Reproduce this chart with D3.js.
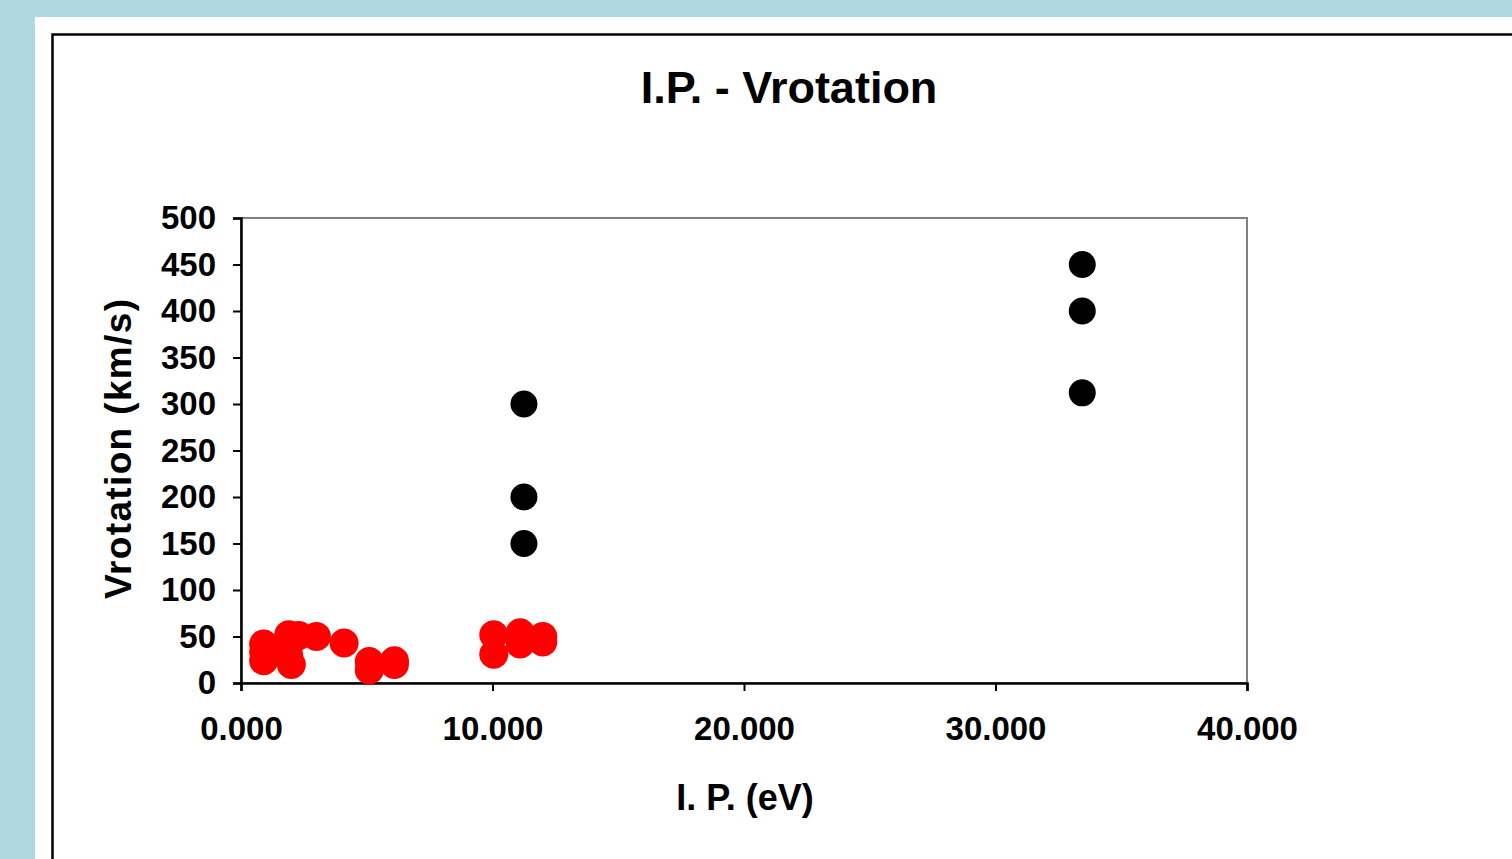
<!DOCTYPE html>
<html>
<head>
<meta charset="utf-8">
<script src="https://cdn.jsdelivr.net/npm/d3@7.9.0/dist/d3.min.js"></script>
<style>
  html, body { margin: 0; padding: 0; background: #b0d8e2; overflow: hidden; }
  svg { display: block; }
  text { font-family: "Liberation Sans", Arial, sans-serif; font-weight: bold; fill: #000; }
</style>
</head>
<body>
<div id="chart"></div>
<script>
// I.P. - Vrotation scatter (Excel-style)

// red series: low I.P. elements
const redIP = [0.9, 0.9, 0.9, 1.9, 1.9, 1.9, 2.0, 2.3, 3.0, 4.1, 5.1, 5.1, 6.1, 6.1, 10.05, 10.05, 11.1, 11.1, 12.0, 12.0];
const redV = [42, 33, 24, 52, 40, 29, 20, 51, 50, 43, 23, 14, 24, 20, 52, 31, 54, 42, 50, 44];

// black series
const blackIP = [11.25, 11.25, 11.25, 33.45, 33.45, 33.45];
const blackV = [300, 200, 150, 450, 400, 312];

const xTicks = [0, 10, 20, 30, 40];
const yTicks = [0, 50, 100, 150, 200, 250, 300, 350, 400, 450, 500];

const width = 1512;
const height = 859;

const svg = d3.select("#chart")
  .append("svg")
  .attr("width", width)
  .attr("height", height);

// white panel + chart frame
svg.append("rect")
  .attr("x", 35).attr("y", 17)
  .attr("width", width).attr("height", height)
  .attr("fill", "#fff");

svg.append("rect")
  .attr("x", 52.5).attr("y", 34.5)
  .attr("width", width).attr("height", height)
  .attr("fill", "#fff")
  .attr("stroke", "#000")
  .attr("stroke-width", 2.5);

const plot = { left: 241, right: 1247, top: 218, bottom: 683 };

const x = d3.scaleLinear().domain([0, 40]).range([plot.left, plot.right]);
const y = d3.scaleLinear().domain([0, 500]).range([plot.bottom, plot.top]);

// plot area border (gray top/right)
svg.append("rect")
  .attr("x", plot.left).attr("y", plot.top)
  .attr("width", plot.right - plot.left)
  .attr("height", plot.bottom - plot.top)
  .attr("fill", "none")
  .attr("stroke", "#808080")
  .attr("stroke-width", 2);

// axes
const xAxis = d3.axisBottom(x)
  .tickValues(xTicks)
  .tickFormat(d3.format(".3f"))
  .tickSize(8)
  .tickPadding(26);

const yAxis = d3.axisLeft(y)
  .tickValues(yTicks)
  .tickFormat(d3.format("d"))
  .tickSize(8)
  .tickPadding(17);

const gx = svg.append("g")
  .attr("transform", `translate(0,${plot.bottom})`)
  .call(xAxis);
gx.select(".domain").attr("stroke", "#000").attr("stroke-width", 2.5);
gx.selectAll(".tick line").attr("stroke", "#000").attr("stroke-width", 2);
gx.selectAll("text").style("font-size", "33px").attr("dy", "0.71em");

const gy = svg.append("g")
  .attr("transform", `translate(${plot.left},0)`)
  .call(yAxis);
gy.select(".domain").attr("stroke", "#000").attr("stroke-width", 2.5);
gy.selectAll(".tick line").attr("stroke", "#000").attr("stroke-width", 2);
gy.selectAll("text").style("font-size", "33px");

// points
const red = d3.zip(redIP, redV);
const black = d3.zip(blackIP, blackV);

svg.append("g").selectAll("circle")
  .data(red)
  .join("circle")
  .attr("cx", (d) => x(d[0]))
  .attr("cy", (d) => y(d[1]))
  .attr("r", 14.5)
  .attr("fill", "#ff0000");

svg.append("g").selectAll("circle")
  .data(black)
  .join("circle")
  .attr("cx", (d) => x(d[0]))
  .attr("cy", (d) => y(d[1]))
  .attr("r", 13.5)
  .attr("fill", "#000");

// titles
svg.append("text")
  .attr("x", 789).attr("y", 103)
  .attr("text-anchor", "middle")
  .style("font-size", "45px")
  .text("I.P. - Vrotation");

svg.append("text")
  .attr("x", 745).attr("y", 810)
  .attr("text-anchor", "middle")
  .style("font-size", "36px")
  .text("I. P. (eV)");

svg.append("text")
  .attr("transform", "translate(131,449) rotate(-90)")
  .attr("text-anchor", "middle")
  .attr("textLength", 300)
  .attr("lengthAdjust", "spacing")
  .style("font-size", "37px")
  .text("Vrotation (km/s)");
</script>
</body>
</html>
